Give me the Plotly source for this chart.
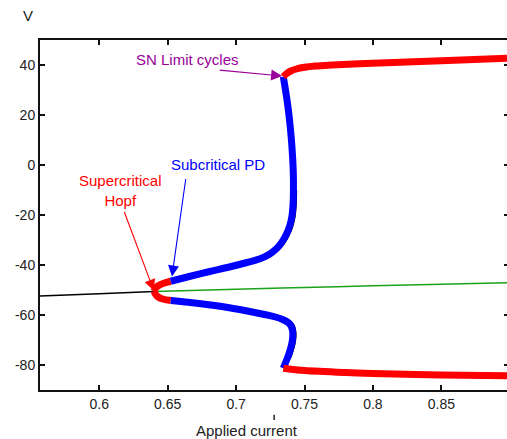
import plotly.graph_objects as go

# ---------------- data ----------------
# stable equilibrium (black)
eq_stable_I = [0.5566, 0.60, 0.6400]
eq_stable_V = [-52.4, -51.5, -50.6]
# unstable equilibrium (green)
eq_unstable_I = [0.6400, 0.70, 0.75, 0.80, 0.85, 0.898]
eq_unstable_V = [-50.6, -49.7, -49.0, -48.3, -47.7, -47.1]

# small stable cycles born at the Hopf point (red), max and min branches
hopf_max_I = [0.6400, 0.6412, 0.6430, 0.6470, 0.6522]
hopf_max_V = [-50.5, -49.2, -48.3, -47.3, -46.5]
hopf_min_I = [0.6400, 0.6412, 0.6430, 0.6470, 0.6522]
hopf_min_V = [-50.5, -51.8, -52.8, -53.7, -54.2]

# unstable cycles after the period-doubling (blue), max branch
pd_max_I = [0.6522, 0.665, 0.680, 0.695, 0.708, 0.717, 0.724, 0.729, 0.733,
            0.7365, 0.7392, 0.7408, 0.7416, 0.7419, 0.7418, 0.7413, 0.7406,
            0.7396, 0.7383, 0.7368, 0.7354, 0.7345]
pd_max_V = [-46.5, -44.7, -42.7, -40.8, -39.0, -37.6, -35.8, -33.7, -31.2,
            -28.0, -24.3, -20.5, -16.0, -10.0, -3.0, 3.0, 8.8,
            15.0, 21.5, 27.5, 32.3, 35.3]
# min branch
pd_min_I = [0.6522, 0.665, 0.680, 0.695, 0.710, 0.720, 0.728, 0.734, 0.738,
            0.7403, 0.7413, 0.7414, 0.7407, 0.7395, 0.7378, 0.7362, 0.7350,
            0.7345]
pd_min_V = [-54.2, -54.9, -55.9, -57.1, -58.6, -59.7, -60.7, -61.8, -63.0,
            -64.5, -66.5, -68.8, -71.5, -74.0, -76.8, -79.0, -80.6,
            -81.3]

# large stable cycles after the saddle-node of limit cycles (red)
sn_max_I = [0.7345, 0.737, 0.740, 0.744, 0.750, 0.758, 0.770, 0.790, 0.820,
            0.850, 0.898]
sn_max_V = [35.3, 36.6, 37.6, 38.4, 39.1, 39.6, 40.0, 40.5, 41.1,
            41.7, 42.7]
sn_min_I = [0.7345, 0.7400, 0.750, 0.780, 0.800, 0.850, 0.898]
sn_min_V = [-81.3, -81.7, -82.2, -83.0, -83.4, -84.0, -84.3]

x_ticks = [0.6, 0.65, 0.7, 0.75, 0.8, 0.85]
x_tick_text = ["0.6", "0.65", "0.7", "0.75", "0.8", "0.85"]
y_ticks = [40, 20, 0, -20, -40, -60, -80]
y_tick_text = ["40", "20", "0", "-20", "-40", "-60", "-80"]
x_range = [0.55665, 0.8980]
y_range = [-90, 50]

# annotation anchors (tip of each arrow, in data units)
sn_tip = (0.7336, 35.6)
pd_tip = (0.6531, -44.6)
hopf_tip = (0.6398, -50.2)

RED = "#ff0000"
BLUE = "#0000ff"
GREEN = "#1aa31a"
PURPLE = "#990099"
FONT = "Liberation Sans, Arial, sans-serif"

fig = go.Figure()

def line(x, y, color, width, yaxis="y"):
    fig.add_trace(go.Scatter(x=x, y=y, mode="lines", yaxis=yaxis,
                             line=dict(color=color, width=width, shape="spline", smoothing=1.0),
                             hoverinfo="skip", showlegend=False))

line(eq_stable_I, eq_stable_V, "#000000", 1.5)
line(eq_unstable_I, eq_unstable_V, GREEN, 1.5)

# thin black shadow along the outer side of the unstable branch bends
sh = 0.0009
line([v + sh for v in pd_max_I[5:14]], pd_max_V[5:14], "#000000", 5)
line([v + sh for v in pd_min_I[6:15]], pd_min_V[6:15], "#000000", 5)

line(hopf_max_I, hopf_max_V, RED, 7)
line(hopf_min_I, hopf_min_V, RED, 7)
line(pd_max_I, pd_max_V, BLUE, 7)
line(pd_min_I, pd_min_V, BLUE, 7)
line(sn_max_I, sn_max_V, RED, 7)
line(sn_min_I, sn_min_V, RED, 7)

# dummy trace for right-side tick axis
fig.add_trace(go.Scatter(x=[None], y=[None], yaxis="y2", showlegend=False, hoverinfo="skip"))

anns = []
def arrow(tip, ax, ay, color):
    anns.append(dict(x=tip[0], y=tip[1], xref="x", yref="y", text="", showarrow=True,
                     ax=ax, ay=ay, arrowhead=2, arrowsize=2.0, arrowwidth=1.1,
                     arrowcolor=color, standoff=0, startstandoff=0))

def label(text, px, py, color, size=15):
    anns.append(dict(x=px, y=py, xref="paper", yref="paper", text=text, showarrow=False,
                     xanchor="center", yanchor="middle",
                     font=dict(family=FONT, size=size, color=color)))

arrow(sn_tip, -64, -6, PURPLE)
arrow(pd_tip, 14, -99, BLUE)
arrow(hopf_tip, -30, -80, RED)

label("SN Limit cycles", 0.3169, 0.9429, PURPLE)
label("Subcritical PD", 0.3805, 0.6429, BLUE)
label("Supercritical<br>Hopf", 0.173, 0.5706, RED)
label("V", -0.0257, 1.0714, "#222222")
label("Applied current", 0.4433, -0.117, "#222222")

fig.update_layout(
    width=507, height=439,
    margin=dict(l=40, r=0, t=40, b=49),
    paper_bgcolor="white", plot_bgcolor="white",
    font=dict(family=FONT, size=14, color="#222222"),
    annotations=anns,
    shapes=[dict(type="line", xref="x", yref="paper", x0=0.7278, x1=0.7278,
                 y0=-0.071, y1=-0.086, line=dict(color="#222222", width=1.5))],
    xaxis=dict(range=x_range, showgrid=False, zeroline=False, showline=True,
               linecolor="#111111", linewidth=2, mirror="ticks",
               ticks="inside", ticklen=5, tickwidth=1.5, tickcolor="#111111",
               tickvals=x_ticks, ticktext=x_tick_text,
               tickfont=dict(family=FONT, size=14, color="#222222")),
    yaxis=dict(range=y_range, showgrid=False, zeroline=False, showline=True,
               linecolor="#111111", linewidth=2, mirror=False,
               ticks="inside", ticklen=5, tickwidth=1.5, tickcolor="#111111",
               tickvals=y_ticks, ticktext=y_tick_text,
               tickfont=dict(family=FONT, size=14, color="#222222")),
    yaxis2=dict(range=y_range, overlaying="y", side="right", showgrid=False,
                zeroline=False, showline=False, ticks="inside", ticklen=3,
                tickwidth=1.5, tickcolor="#111111", tickvals=y_ticks,
                showticklabels=False),
)

fig.write_html("out.html", config={"displayModeBar": False})
